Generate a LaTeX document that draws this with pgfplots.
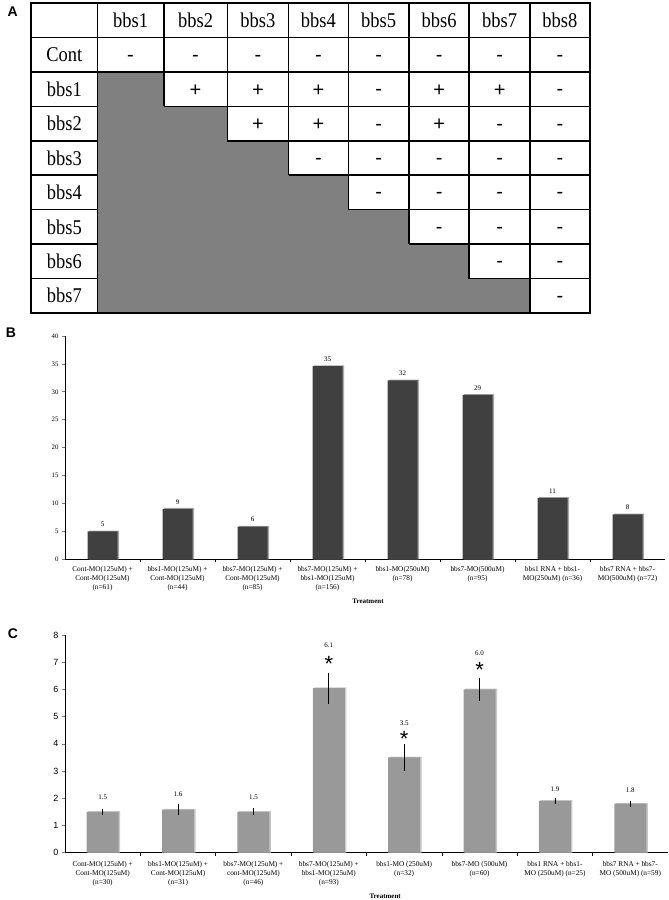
\documentclass[border=0pt]{standalone}
\usepackage{fontspec}
\setmainfont{Liberation Serif}
\setsansfont{Liberation Sans}
\newfontfamily\tabfont[FakeStretch=0.88]{Liberation Serif}
\newfontfamily\arial{Liberation Sans}
\usepackage{pgfplots}
\pgfplotsset{compat=1.18}
\pgfplotsset{/pgf/number format/assume math mode=true}
\definecolor{tgray}{HTML}{808080}
\definecolor{bdark}{HTML}{404040}
\definecolor{bshadow}{HTML}{A8A8A8}
\definecolor{cbar}{HTML}{999999}
\definecolor{cshadow}{HTML}{C8C8C8}
\newcommand{\hd}[3]{\node[font=\tabfont\fontsize{21}{21}\selectfont, inner sep=0pt] at (axis cs:#1,-#2) {#3};}
\newcommand{\pl}[2]{\node[font=\arial\fontsize{20}{20}\selectfont, inner sep=0pt, yshift=-1.5pt] at (axis cs:#1,-#2) {+};}
\newcommand{\mi}[2]{\node[font=\arial\fontsize{20}{20}\selectfont, inner sep=0pt, yshift=-3.5pt] at (axis cs:#1,-#2) {-};}
\begin{document}
\begin{tikzpicture}[x=1pt,y=1pt]
\useasboundingbox (0,0) rectangle (669,900);
\node[font=\arial\bfseries\fontsize{14}{14}\selectfont] at (12.7,888.3) {A};
\node[font=\arial\bfseries\fontsize{14}{14}\selectfont] at (11,567) {B};
\node[font=\arial\bfseries\fontsize{14}{14}\selectfont] at (13,266) {C};

% ---------------- Panel A: table ----------------
\begin{axis}[at={(31.2pt,587pt)}, anchor=south west, scale only axis,
  width=558.5pt, height=310pt, xmin=31.2, xmax=589.7, ymin=-313, ymax=-3,
  hide axis, clip=false]
\addplot[fill=tgray, draw=none] coordinates {(97.4,-71.89) (163.7,-71.89) (163.7,-106.33) (227.4,-106.33) (227.4,-140.78) (288.5,-140.78) (288.5,-175.22) (348.3,-175.22) (348.3,-209.67) (409,-209.67) (409,-244.11) (469.2,-244.11) (469.2,-278.56) (530,-278.56) (530,-313) (97.4,-313)} -- cycle;
\draw[line width=1.6pt] (axis cs:31.2,-3) rectangle (axis cs:589.7,-313);
\draw[line width=1.6pt] (axis cs:31.2,-37.44) -- (axis cs:589.7,-37.44);
\draw[line width=1.6pt] (axis cs:31.2,-71.89) -- (axis cs:589.7,-71.89);
\draw[line width=1.6pt] (axis cs:31.2,-106.33) -- (axis cs:97.4,-106.33) (axis cs:163.7,-106.33) -- (axis cs:589.7,-106.33);
\draw[line width=1.6pt] (axis cs:31.2,-140.78) -- (axis cs:97.4,-140.78) (axis cs:227.4,-140.78) -- (axis cs:589.7,-140.78);
\draw[line width=1.6pt] (axis cs:31.2,-175.22) -- (axis cs:97.4,-175.22) (axis cs:288.5,-175.22) -- (axis cs:589.7,-175.22);
\draw[line width=1.6pt] (axis cs:31.2,-209.67) -- (axis cs:97.4,-209.67) (axis cs:348.3,-209.67) -- (axis cs:589.7,-209.67);
\draw[line width=1.6pt] (axis cs:31.2,-244.11) -- (axis cs:97.4,-244.11) (axis cs:409,-244.11) -- (axis cs:589.7,-244.11);
\draw[line width=1.6pt] (axis cs:31.2,-278.56) -- (axis cs:97.4,-278.56) (axis cs:469.2,-278.56) -- (axis cs:589.7,-278.56);
\draw[line width=1.6pt] (axis cs:97.4,-3) -- (axis cs:97.4,-313);
\draw[line width=1.6pt] (axis cs:163.7,-3) -- (axis cs:163.7,-106.33);
\draw[line width=1.6pt] (axis cs:227.4,-3) -- (axis cs:227.4,-140.78);
\draw[line width=1.6pt] (axis cs:288.5,-3) -- (axis cs:288.5,-175.22);
\draw[line width=1.6pt] (axis cs:348.3,-3) -- (axis cs:348.3,-209.67);
\draw[line width=1.6pt] (axis cs:409,-3) -- (axis cs:409,-244.11);
\draw[line width=1.6pt] (axis cs:469.2,-3) -- (axis cs:469.2,-278.56);
\draw[line width=1.6pt] (axis cs:530,-3) -- (axis cs:530,-313);
% header
\hd{130.55}{20.22}{bbs1}\hd{195.55}{20.22}{bbs2}\hd{257.95}{20.22}{bbs3}\hd{318.4}{20.22}{bbs4}
\hd{378.65}{20.22}{bbs5}\hd{439.1}{20.22}{bbs6}\hd{499.6}{20.22}{bbs7}\hd{559.85}{20.22}{bbs8}
% row labels
\hd{64.3}{54.67}{Cont}\hd{64.3}{89.11}{bbs1}\hd{64.3}{123.56}{bbs2}\hd{64.3}{158}{bbs3}
\hd{64.3}{192.44}{bbs4}\hd{64.3}{226.89}{bbs5}\hd{64.3}{261.33}{bbs6}\hd{64.3}{295.78}{bbs7}
% Cont row
\mi{130.55}{54.67}\mi{195.55}{54.67}\mi{257.95}{54.67}\mi{318.4}{54.67}\mi{378.65}{54.67}\mi{439.1}{54.67}\mi{499.6}{54.67}\mi{559.85}{54.67}
% bbs1 row
\pl{195.55}{89.11}\pl{257.95}{89.11}\pl{318.4}{89.11}\mi{378.65}{89.11}\pl{439.1}{89.11}\pl{499.6}{89.11}\mi{559.85}{89.11}
% bbs2 row
\pl{257.95}{123.56}\pl{318.4}{123.56}\mi{378.65}{123.56}\pl{439.1}{123.56}\mi{499.6}{123.56}\mi{559.85}{123.56}
% bbs3 row
\mi{318.4}{158}\mi{378.65}{158}\mi{439.1}{158}\mi{499.6}{158}\mi{559.85}{158}
% bbs4 row
\mi{378.65}{192.44}\mi{439.1}{192.44}\mi{499.6}{192.44}\mi{559.85}{192.44}
% bbs5 row
\mi{439.1}{226.89}\mi{499.6}{226.89}\mi{559.85}{226.89}
% bbs6 row
\mi{499.6}{261.33}\mi{559.85}{261.33}
% bbs7 row
\mi{559.85}{295.78}
\end{axis}

% ---------------- Panel B ----------------
\begin{axis}[at={(65pt,340.7pt)}, anchor=south west, scale only axis,
  width=600pt, height=223.3pt, xmin=-0.5, xmax=7.5, ymin=0, ymax=40, clip=false,
  axis lines*=left, axis line style={line width=0.7pt},
  tick align=outside, major tick length=3pt, minor tick length=3pt,
  ytick={0,5,...,40}, ytick style={line width=0.7pt},
  y tick label style={font=\fontsize{6.8}{8}\selectfont},
  xtick={0,...,7}, major x tick style={draw=none},
  minor xtick={0.5,1.5,...,6.5}, minor x tick style={draw=black, line width=0.7pt},
  xticklabels={{Cont-MO(125uM) +\\Cont-MO(125uM)\\(n=61)},{bbs1-MO(125uM) +\\Cont-MO(125uM)\\(n=44)},{bbs7-MO(125uM) +\\Cont-MO(125uM)\\(n=85)},{bbs7-MO(125uM) +\\bbs1-MO(125uM)\\(n=156)},{bbs1-MO(250uM)\\(n=78)},{bbs7-MO(500uM)\\(n=95)},{bbs1 RNA + bbs1-\\MO(250uM) (n=36)},{bbs7 RNA + bbs7-\\MO(500uM) (n=72)}},
  x tick label style={align=center, font=\fontsize{7.3}{9}\selectfont, inner sep=0pt, anchor=north, yshift=-4pt},
]
\addplot[ybar, bar width=30pt, bar shift=1.5pt, fill=bshadow, draw=none] coordinates {(0,5.15) (1,9.2) (2,6.0) (3,34.75) (4,32.2) (5,29.6) (6,11.15) (7,8.2)};
\addplot[ybar, bar width=30pt, bar shift=0pt, fill=bdark, draw=none, point meta=explicit symbolic,
  nodes near coords, nodes near coords style={font=\fontsize{7}{8}\selectfont, anchor=center, inner sep=0pt, yshift=7pt}]
  coordinates {(0,5)[5] (1,9.05)[9] (2,5.85)[6] (3,34.6)[35] (4,32.05)[32] (5,29.45)[29] (6,11)[11] (7,8.05)[8]};
\node[font=\bfseries\fontsize{7}{8}\selectfont, yshift=-42.4pt] at (rel axis cs:0.505,0) {Treatment};
\end{axis}

% ---------------- Panel C ----------------
\begin{axis}[at={(65pt,47.3pt)}, anchor=south west, scale only axis,
  width=603pt, height=217.7pt, xmin=-0.5, xmax=7.5, ymin=0, ymax=8, clip=false,
  axis lines*=left, axis line style={line width=0.7pt},
  tick align=outside, major tick length=3pt, minor tick length=3pt,
  ytick={0,1,...,8}, ytick style={line width=0.7pt},
  y tick label style={font=\arial\fontsize{9}{10}\selectfont},
  xtick={0,...,7}, major x tick style={draw=none},
  minor xtick={0.5,1.5,...,6.5}, minor x tick style={draw=black, line width=0.7pt},
  xticklabels={{Cont-MO(125uM) +\\Cont-MO(125uM)\\(n=30)},{bbs1-MO(125uM) +\\Cont-MO(125uM)\\(n=31)},{bbs7-MO(125uM) +\\cont-MO(125uM)\\(n=46)},{bbs7-MO(125uM) +\\bbs1-MO(125uM)\\(n=93)},{bbs1-MO (250uM)\\(n=32)},{bbs7-MO (500uM)\\(n=60)},{bbs1 RNA + bbs1-\\MO (250uM) (n=25)},{bbs7 RNA + bbs7-\\MO (500uM) (n=59)}},
  x tick label style={align=center, font=\fontsize{7.3}{9}\selectfont, inner sep=0pt, anchor=north, yshift=-5.5pt},
]
\addplot[ybar, bar width=32pt, bar shift=1.5pt, fill=cshadow, draw=none] coordinates {(0,1.53) (1,1.61) (2,1.53) (3,6.08) (4,3.53) (5,6.03) (6,1.93) (7,1.83)};
\addplot[ybar, bar width=32pt, bar shift=0pt, fill=cbar, draw=none,
  error bars/.cd, y dir=both, y explicit, error mark=none, error bar style={line width=0.8pt, black}]
  coordinates {(0,1.5) +- (0,0.1) (1,1.58) +- (0,0.21) (2,1.5) +- (0,0.13) (3,6.05) +- (0,0.57) (4,3.5) +- (0,0.5) (5,6.0) +- (0,0.41) (6,1.9) +- (0,0.12) (7,1.8) +- (0,0.11)};
\node[font=\fontsize{7}{8}\selectfont, inner sep=0pt] at (axis cs:0,2.04) {1.5};
\node[font=\fontsize{7}{8}\selectfont, inner sep=0pt] at (axis cs:1,2.16) {1.6};
\node[font=\fontsize{7}{8}\selectfont, inner sep=0pt] at (axis cs:2,2.04) {1.5};
\node[font=\fontsize{7}{8}\selectfont, inner sep=0pt] at (axis cs:3,7.64) {6.1};
\node[font=\fontsize{7}{8}\selectfont, inner sep=0pt] at (axis cs:4,4.76) {3.5};
\node[font=\fontsize{7}{8}\selectfont, inner sep=0pt] at (axis cs:5,7.33) {6.0};
\node[font=\fontsize{7}{8}\selectfont, inner sep=0pt] at (axis cs:6,2.33) {1.9};
\node[font=\fontsize{7}{8}\selectfont, inner sep=0pt] at (axis cs:7,2.31) {1.8};
\node[font=\arial\fontsize{22}{22}\selectfont, inner sep=0pt, anchor=north] at (axis cs:3,7.23) {*};
\node[font=\arial\fontsize{22}{22}\selectfont, inner sep=0pt, anchor=north] at (axis cs:4,4.45) {*};
\node[font=\arial\fontsize{22}{22}\selectfont, inner sep=0pt, anchor=north] at (axis cs:5,6.99) {*};
\node[font=\bfseries\fontsize{7}{8}\selectfont, yshift=-43.3pt] at (rel axis cs:0.531,0) {Treatment};
\end{axis}
\end{tikzpicture}
\end{document}
